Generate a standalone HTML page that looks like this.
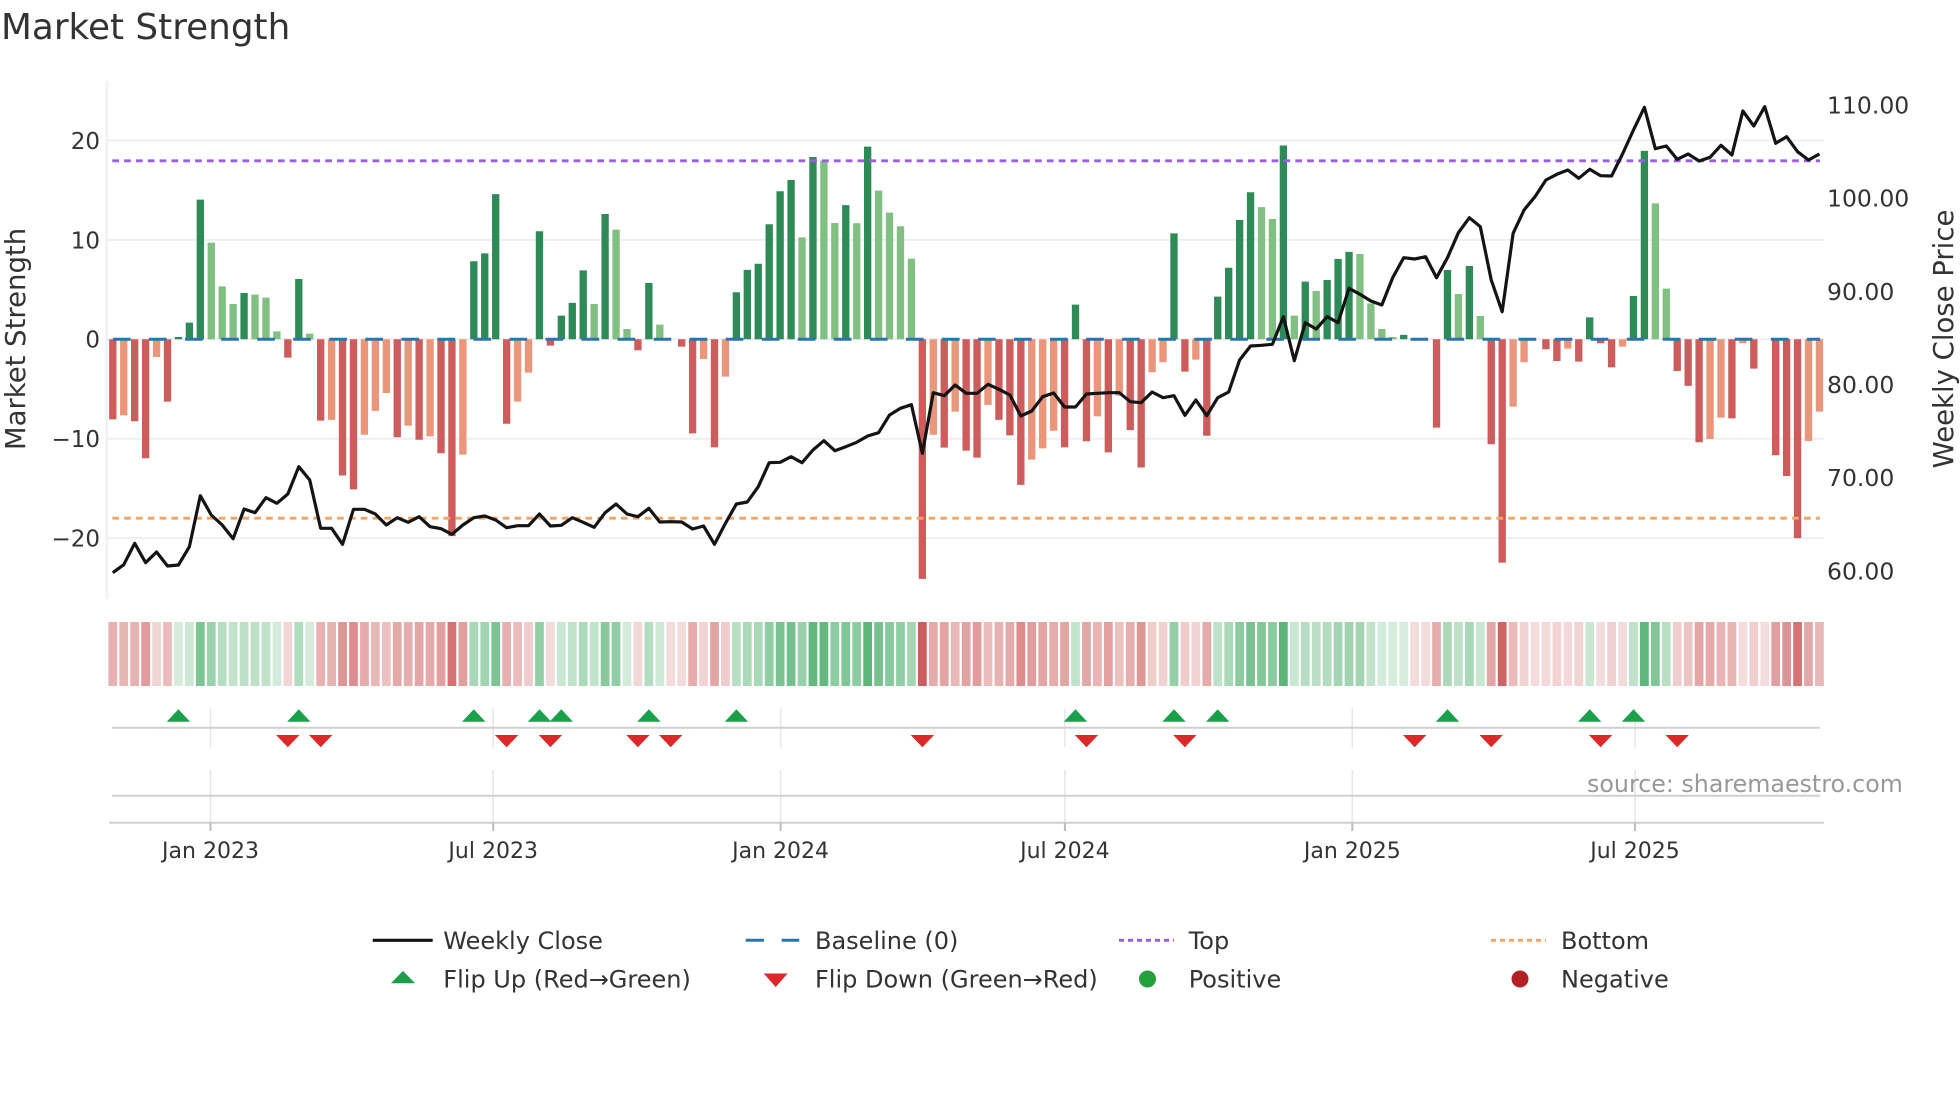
<!DOCTYPE html>
<html><head><meta charset="utf-8"><style>
html,body{margin:0;padding:0;background:#fff}
svg{display:block}
text{font-family:"DejaVu Sans","Liberation Sans",sans-serif;fill:#333}
</style></head><body>
<svg width="1960" height="1102" viewBox="0 0 1960 1102" xmlns="http://www.w3.org/2000/svg">
<rect width="1960" height="1102" fill="#fff"/>
<text x="1" y="39" font-size="35.8">Market Strength</text>

<g stroke="#eceff4" stroke-width="2">
<line x1="107" y1="140.5" x2="1824" y2="140.5"/>
<line x1="107" y1="239.9" x2="1824" y2="239.9"/>
<line x1="107" y1="339.3" x2="1824" y2="339.3"/>
<line x1="107" y1="438.7" x2="1824" y2="438.7"/>
<line x1="107" y1="538.1" x2="1824" y2="538.1"/>
<line x1="106.7" y1="81" x2="106.7" y2="599"/>
</g>

<g transform="translate(112.8,339.3) scale(10.94,-9.94)">
<path fill="#cd5c5c" d="M-.335 0V-8.05h.67V0zM1.665 0V-8.25h.67V0zM2.665 0V-11.97h.67V0zM4.665 0V-6.27h.67V0zM15.665 0V-1.84h.67V0zM18.665 0V-8.18h.67V0zM20.665 0V-13.7h.67V0zM21.665 0V-15.1h.67V0zM25.665 0V-9.86h.67V0zM27.665 0V-10.1h.67V0zM29.665 0V-11.47h.67V0zM30.665 0V-19.8h.67V0zM35.665 0V-8.5h.67V0zM39.665 0V-.64h.67V0zM47.665 0V-1.1h.67V0zM51.665 0V-.74h.67V0zM52.665 0V-9.46h.67V0zM54.665 0V-10.87h.67V0zM73.665 0V-24.1h.67V0zM75.665 0V-10.9h.67V0zM77.665 0V-11.2h.67V0zM78.665 0V-11.9h.67V0zM80.665 0V-8.1h.67V0zM81.665 0V-9.66h.67V0zM82.665 0V-14.65h.67V0zM86.665 0V-10.87h.67V0zM88.665 0V-10.26h.67V0zM90.665 0V-11.37h.67V0zM92.665 0V-9.12h.67V0zM93.665 0V-12.9h.67V0zM97.665 0V-3.25h.67V0zM99.665 0V-9.7h.67V0zM120.665 0V-8.89h.67V0zM125.665 0V-10.56h.67V0zM126.665 0V-22.47h.67V0zM130.665 0V-1h.67V0zM131.665 0V-2.18h.67V0zM133.665 0V-2.25h.67V0zM135.665 0V-.4h.67V0zM136.665 0V-2.82h.67V0zM142.665 0V-3.19h.67V0zM143.665 0V-4.69h.67V0zM144.665 0V-10.36h.67V0zM147.665 0V-7.95h.67V0zM149.665 0V-2.95h.67V0zM151.665 0V-11.67h.67V0zM152.665 0V-13.75h.67V0zM153.665 0V-20h.67V0z"/>
<path fill="#e9967a" d="M.665 0V-7.65h.67V0zM3.665 0V-1.78h.67V0zM19.665 0V-8.1h.67V0zM22.665 0V-9.6h.67V0zM23.665 0V-7.2h.67V0zM24.665 0V-5.4h.67V0zM26.665 0V-8.7h.67V0zM28.665 0V-9.76h.67V0zM31.665 0V-11.6h.67V0zM36.665 0V-6.27h.67V0zM37.665 0V-3.35h.67V0zM53.665 0V-1.98h.67V0zM55.665 0V-3.76h.67V0zM74.665 0V-9.6h.67V0zM76.665 0V-7.28h.67V0zM79.665 0V-6.6h.67V0zM83.665 0V-12.1h.67V0zM84.665 0V-10.97h.67V0zM85.665 0V-9.2h.67V0zM89.665 0V-7.75h.67V0zM91.665 0V-5.67h.67V0zM94.665 0V-3.32h.67V0zM95.665 0V-2.31h.67V0zM98.665 0V-2.05h.67V0zM127.665 0V-6.77h.67V0zM128.665 0V-2.31h.67V0zM132.665 0V-.94h.67V0zM137.665 0V-.74h.67V0zM145.665 0V-10.03h.67V0zM146.665 0V-7.88h.67V0zM148.665 0V-.4h.67V0zM154.665 0V-10.23h.67V0zM155.665 0V-7.28h.67V0z"/>
<path fill="#2e8b57" d="M5.665 0V.23h.67V0zM6.665 0V1.68h.67V0zM7.665 0V14.05h.67V0zM11.665 0V4.66h.67V0zM16.665 0V6.07h.67V0zM32.665 0V7.85h.67V0zM33.665 0V8.65h.67V0zM34.665 0V14.6h.67V0zM38.665 0V10.87h.67V0zM40.665 0V2.38h.67V0zM41.665 0V3.66h.67V0zM42.665 0V6.94h.67V0zM44.665 0V12.6h.67V0zM48.665 0V5.67h.67V0zM56.665 0V4.73h.67V0zM57.665 0V6.98h.67V0zM58.665 0V7.6h.67V0zM59.665 0V11.57h.67V0zM60.665 0V14.9h.67V0zM61.665 0V16.03h.67V0zM63.665 0V18.34h.67V0zM66.665 0V13.5h.67V0zM68.665 0V19.38h.67V0zM87.665 0V3.49h.67V0zM96.665 0V10.66h.67V0zM100.665 0V4.29h.67V0zM101.665 0V7.2h.67V0zM102.665 0V12h.67V0zM103.665 0V14.8h.67V0zM106.665 0V19.5h.67V0zM108.665 0V5.8h.67V0zM110.665 0V5.97h.67V0zM111.665 0V8.08h.67V0zM112.665 0V8.79h.67V0zM117.665 0V.44h.67V0zM121.665 0V6.97h.67V0zM123.665 0V7.38h.67V0zM134.665 0V2.21h.67V0zM138.665 0V4.36h.67V0zM139.665 0V18.95h.67V0z"/>
<path fill="#81c082" d="M8.665 0V9.72h.67V0zM9.665 0V5.33h.67V0zM10.665 0V3.55h.67V0zM12.665 0V4.49h.67V0zM13.665 0V4.19h.67V0zM14.665 0V.8h.67V0zM17.665 0V.57h.67V0zM43.665 0V3.55h.67V0zM45.665 0V11.03h.67V0zM46.665 0V1.04h.67V0zM49.665 0V1.48h.67V0zM62.665 0V10.26h.67V0zM64.665 0V17.97h.67V0zM65.665 0V11.7h.67V0zM67.665 0V11.67h.67V0zM69.665 0V14.96h.67V0zM70.665 0V12.74h.67V0zM71.665 0V11.37h.67V0zM72.665 0V8.1h.67V0zM104.665 0V13.3h.67V0zM105.665 0V12.1h.67V0zM107.665 0V2.38h.67V0zM109.665 0V4.86h.67V0zM113.665 0V8.58h.67V0zM114.665 0V3.62h.67V0zM115.665 0V1.04h.67V0zM116.665 0V.23h.67V0zM122.665 0V4.56h.67V0zM124.665 0V2.35h.67V0zM140.665 0V13.68h.67V0zM141.665 0V5.1h.67V0z"/>
</g>

<line x1="113" y1="339.3" x2="1820" y2="339.3" stroke="#2a75b0" stroke-width="3" stroke-dasharray="17.7 18.34"/>
<line x1="112.3" y1="160.8" x2="1820" y2="160.8" stroke="#9b5de5" stroke-width="2.8" stroke-dasharray="6.7 5.13"/>
<line x1="112.3" y1="518.2" x2="1820" y2="518.2" stroke="#f4a460" stroke-width="2.8" stroke-dasharray="6.7 5.13"/>

<g transform="translate(112.8,0) scale(10.94,1)">
<polyline fill="none" stroke="#141414" stroke-width="3.2" stroke-linejoin="round" vector-effect="non-scaling-stroke" points="0,572.7 1,564.7 2,543.3 3,562.7 4,552 5,566 6,565 7,546.7 8,495.7 9,515 10,525 11,538.7 12,509 13,512.7 14,497.7 15,503.3 16,494 17,466.7 18,480 19,528.3 20,528.3 21,544.3 22,509.3 23,509.3 24,514 25,525 26,517.7 27,522.3 28,516.7 29,526.7 30,528.7 31,534.3 32,525 33,517.7 34,516 35,520 36,527.7 37,525.7 38,525.7 39,514 40,526 41,525.3 42,517.7 43,522.3 44,527.3 45,512.7 46,504 47,514 48,516.7 49,508.3 50,522 51,521.7 52,522 53,529 54,526 55,544.3 56,523.3 57,504 58,502 59,486.7 60,462.7 61,462.3 62,456.7 63,462.7 64,450 65,440.7 66,450.7 67,446.7 68,442.3 69,436 70,432.7 71,415 72,408.3 73,404.7 74,453.3 75,392.7 76,395.7 77,385 78,393.3 79,393.3 80,384.3 81,389.3 82,395 83,416 84,411 85,396.7 86,393 87,407 88,407 89,394 90,393.3 91,392.7 92,392.7 93,401.7 94,402.7 95,392 96,397.7 97,395.7 98,415.3 99,400 100,415.7 101,397.7 102,392 103,360 104,346 105,345.3 106,344.3 107,316.7 108,360.7 109,322.7 110,329 111,316.7 112,322.7 113,288.3 114,294.3 115,301 116,305 117,277.5 118,257.7 119,259 120,256.7 121,277.7 122,257.7 123,232.7 124,217.7 125,226.7 126,280 127,311.7 128,233.3 129,210 130,196.7 131,180 132,174.3 133,170 134,178.3 135,169.3 136,175.7 137,176 138,154 139,130 140,107.3 141,148.7 142,146 143,159.3 144,154 145,161 146,157.3 147,145.3 148,155 149,111 150,126 151,106.7 152,143.3 153,136.7 154,151.7 155,160 156,154"/>
</g>

<g font-size="23" text-anchor="end">
<text x="100" y="148.9">20</text>
<text x="100" y="248.3">10</text>
<text x="100" y="347.7">0</text>
<text x="100" y="447.1">−10</text>
<text x="100" y="546.5">−20</text>
</g>
<g font-size="23.5">
<text x="1827" y="113.6">110.00</text>
<text x="1827" y="206.7">100.00</text>
<text x="1827" y="299.9">90.00</text>
<text x="1827" y="393">80.00</text>
<text x="1827" y="486.2">70.00</text>
<text x="1827" y="579.3">60.00</text>
</g>
<text transform="translate(25,339) rotate(-90)" font-size="27.5" text-anchor="middle">Market Strength</text>
<text transform="translate(1953,339) rotate(-90)" font-size="27.5" text-anchor="middle">Weekly Close Price</text>

<g transform="translate(112.8,622) scale(10.94,1)">
<g fill="#cd5c5c">
<rect x="-.4" width=".8" height="64" fill-opacity=".47"/>
<rect x=".6" width=".8" height="64" fill-opacity=".45"/>
<rect x="1.6" width=".8" height="64" fill-opacity=".47"/>
<rect x="2.6" width=".8" height="64" fill-opacity=".60"/>
<rect x="3.6" width=".8" height="64" fill-opacity=".26"/>
<rect x="4.6" width=".8" height="64" fill-opacity=".41"/>
<rect x="15.6" width=".8" height="64" fill-opacity=".26"/>
<rect x="18.6" width=".8" height="64" fill-opacity=".47"/>
<rect x="19.6" width=".8" height="64" fill-opacity=".47"/>
<rect x="20.6" width=".8" height="64" fill-opacity=".65"/>
<rect x="21.6" width=".8" height="64" fill-opacity=".70"/>
<rect x="22.6" width=".8" height="64" fill-opacity=".52"/>
<rect x="23.6" width=".8" height="64" fill-opacity=".44"/>
<rect x="24.6" width=".8" height="64" fill-opacity=".38"/>
<rect x="25.6" width=".8" height="64" fill-opacity=".53"/>
<rect x="26.6" width=".8" height="64" fill-opacity=".49"/>
<rect x="27.6" width=".8" height="64" fill-opacity=".54"/>
<rect x="28.6" width=".8" height="64" fill-opacity=".52"/>
<rect x="29.6" width=".8" height="64" fill-opacity=".58"/>
<rect x="30.6" width=".8" height="64" fill-opacity=".86"/>
<rect x="31.6" width=".8" height="64" fill-opacity=".59"/>
<rect x="35.6" width=".8" height="64" fill-opacity=".48"/>
<rect x="36.6" width=".8" height="64" fill-opacity=".41"/>
<rect x="37.6" width=".8" height="64" fill-opacity=".31"/>
<rect x="39.6" width=".8" height="64" fill-opacity=".22"/>
<rect x="47.6" width=".8" height="64" fill-opacity=".24"/>
<rect x="50.6" width=".8" height="64" fill-opacity=".21"/>
<rect x="51.6" width=".8" height="64" fill-opacity=".22"/>
<rect x="52.6" width=".8" height="64" fill-opacity=".51"/>
<rect x="53.6" width=".8" height="64" fill-opacity=".27"/>
<rect x="54.6" width=".8" height="64" fill-opacity=".56"/>
<rect x="55.6" width=".8" height="64" fill-opacity=".32"/>
<rect x="73.6" width=".8" height="64" fill-opacity="1"/>
<rect x="74.6" width=".8" height="64" fill-opacity=".52"/>
<rect x="75.6" width=".8" height="64" fill-opacity=".56"/>
<rect x="76.6" width=".8" height="64" fill-opacity=".44"/>
<rect x="77.6" width=".8" height="64" fill-opacity=".57"/>
<rect x="78.6" width=".8" height="64" fill-opacity=".60"/>
<rect x="79.6" width=".8" height="64" fill-opacity=".42"/>
<rect x="80.6" width=".8" height="64" fill-opacity=".47"/>
<rect x="81.6" width=".8" height="64" fill-opacity=".52"/>
<rect x="82.6" width=".8" height="64" fill-opacity=".69"/>
<rect x="83.6" width=".8" height="64" fill-opacity=".60"/>
<rect x="84.6" width=".8" height="64" fill-opacity=".56"/>
<rect x="85.6" width=".8" height="64" fill-opacity=".51"/>
<rect x="86.6" width=".8" height="64" fill-opacity=".56"/>
<rect x="88.6" width=".8" height="64" fill-opacity=".54"/>
<rect x="89.6" width=".8" height="64" fill-opacity=".46"/>
<rect x="90.6" width=".8" height="64" fill-opacity=".58"/>
<rect x="91.6" width=".8" height="64" fill-opacity=".39"/>
<rect x="92.6" width=".8" height="64" fill-opacity=".50"/>
<rect x="93.6" width=".8" height="64" fill-opacity=".63"/>
<rect x="94.6" width=".8" height="64" fill-opacity=".31"/>
<rect x="95.6" width=".8" height="64" fill-opacity=".28"/>
<rect x="97.6" width=".8" height="64" fill-opacity=".31"/>
<rect x="98.6" width=".8" height="64" fill-opacity=".27"/>
<rect x="99.6" width=".8" height="64" fill-opacity=".52"/>
<rect x="118.6" width=".8" height="64" fill-opacity=".21"/>
<rect x="119.6" width=".8" height="64" fill-opacity=".21"/>
<rect x="120.6" width=".8" height="64" fill-opacity=".50"/>
<rect x="125.6" width=".8" height="64" fill-opacity=".55"/>
<rect x="126.6" width=".8" height="64" fill-opacity=".95"/>
<rect x="127.6" width=".8" height="64" fill-opacity=".42"/>
<rect x="128.6" width=".8" height="64" fill-opacity=".28"/>
<rect x="129.6" width=".8" height="64" fill-opacity=".21"/>
<rect x="130.6" width=".8" height="64" fill-opacity=".23"/>
<rect x="131.6" width=".8" height="64" fill-opacity=".27"/>
<rect x="132.6" width=".8" height="64" fill-opacity=".23"/>
<rect x="133.6" width=".8" height="64" fill-opacity=".27"/>
<rect x="135.6" width=".8" height="64" fill-opacity=".21"/>
<rect x="136.6" width=".8" height="64" fill-opacity=".29"/>
<rect x="137.6" width=".8" height="64" fill-opacity=".22"/>
<rect x="142.6" width=".8" height="64" fill-opacity=".31"/>
<rect x="143.6" width=".8" height="64" fill-opacity=".36"/>
<rect x="144.6" width=".8" height="64" fill-opacity=".54"/>
<rect x="145.6" width=".8" height="64" fill-opacity=".53"/>
<rect x="146.6" width=".8" height="64" fill-opacity=".46"/>
<rect x="147.6" width=".8" height="64" fill-opacity=".46"/>
<rect x="148.6" width=".8" height="64" fill-opacity=".21"/>
<rect x="149.6" width=".8" height="64" fill-opacity=".30"/>
<rect x="150.6" width=".8" height="64" fill-opacity=".21"/>
<rect x="151.6" width=".8" height="64" fill-opacity=".59"/>
<rect x="152.6" width=".8" height="64" fill-opacity=".66"/>
<rect x="153.6" width=".8" height="64" fill-opacity=".86"/>
<rect x="154.6" width=".8" height="64" fill-opacity=".54"/>
<rect x="155.6" width=".8" height="64" fill-opacity=".44"/>
</g>
<g fill="#3ea860">
<rect x="5.6" width=".8" height="64" fill-opacity=".21"/>
<rect x="6.6" width=".8" height="64" fill-opacity=".26"/>
<rect x="7.6" width=".8" height="64" fill-opacity=".67"/>
<rect x="8.6" width=".8" height="64" fill-opacity=".52"/>
<rect x="9.6" width=".8" height="64" fill-opacity=".38"/>
<rect x="10.6" width=".8" height="64" fill-opacity=".32"/>
<rect x="11.6" width=".8" height="64" fill-opacity=".35"/>
<rect x="12.6" width=".8" height="64" fill-opacity=".35"/>
<rect x="13.6" width=".8" height="64" fill-opacity=".34"/>
<rect x="14.6" width=".8" height="64" fill-opacity=".23"/>
<rect x="16.6" width=".8" height="64" fill-opacity=".40"/>
<rect x="17.6" width=".8" height="64" fill-opacity=".22"/>
<rect x="32.6" width=".8" height="64" fill-opacity=".46"/>
<rect x="33.6" width=".8" height="64" fill-opacity=".49"/>
<rect x="34.6" width=".8" height="64" fill-opacity=".68"/>
<rect x="38.6" width=".8" height="64" fill-opacity=".56"/>
<rect x="40.6" width=".8" height="64" fill-opacity=".28"/>
<rect x="41.6" width=".8" height="64" fill-opacity=".32"/>
<rect x="42.6" width=".8" height="64" fill-opacity=".43"/>
<rect x="43.6" width=".8" height="64" fill-opacity=".32"/>
<rect x="44.6" width=".8" height="64" fill-opacity=".62"/>
<rect x="45.6" width=".8" height="64" fill-opacity=".57"/>
<rect x="46.6" width=".8" height="64" fill-opacity=".23"/>
<rect x="48.6" width=".8" height="64" fill-opacity=".39"/>
<rect x="49.6" width=".8" height="64" fill-opacity=".25"/>
<rect x="56.6" width=".8" height="64" fill-opacity=".36"/>
<rect x="57.6" width=".8" height="64" fill-opacity=".43"/>
<rect x="58.6" width=".8" height="64" fill-opacity=".45"/>
<rect x="59.6" width=".8" height="64" fill-opacity=".58"/>
<rect x="60.6" width=".8" height="64" fill-opacity=".69"/>
<rect x="61.6" width=".8" height="64" fill-opacity=".73"/>
<rect x="62.6" width=".8" height="64" fill-opacity=".54"/>
<rect x="63.6" width=".8" height="64" fill-opacity=".81"/>
<rect x="64.6" width=".8" height="64" fill-opacity=".80"/>
<rect x="65.6" width=".8" height="64" fill-opacity=".59"/>
<rect x="66.6" width=".8" height="64" fill-opacity=".65"/>
<rect x="67.6" width=".8" height="64" fill-opacity=".59"/>
<rect x="68.6" width=".8" height="64" fill-opacity=".84"/>
<rect x="69.6" width=".8" height="64" fill-opacity=".70"/>
<rect x="70.6" width=".8" height="64" fill-opacity=".62"/>
<rect x="71.6" width=".8" height="64" fill-opacity=".58"/>
<rect x="72.6" width=".8" height="64" fill-opacity=".47"/>
<rect x="87.6" width=".8" height="64" fill-opacity=".32"/>
<rect x="96.6" width=".8" height="64" fill-opacity=".55"/>
<rect x="100.6" width=".8" height="64" fill-opacity=".34"/>
<rect x="101.6" width=".8" height="64" fill-opacity=".44"/>
<rect x="102.6" width=".8" height="64" fill-opacity=".60"/>
<rect x="103.6" width=".8" height="64" fill-opacity=".69"/>
<rect x="104.6" width=".8" height="64" fill-opacity=".64"/>
<rect x="105.6" width=".8" height="64" fill-opacity=".60"/>
<rect x="106.6" width=".8" height="64" fill-opacity=".85"/>
<rect x="107.6" width=".8" height="64" fill-opacity=".28"/>
<rect x="108.6" width=".8" height="64" fill-opacity=".39"/>
<rect x="109.6" width=".8" height="64" fill-opacity=".36"/>
<rect x="110.6" width=".8" height="64" fill-opacity=".40"/>
<rect x="111.6" width=".8" height="64" fill-opacity=".47"/>
<rect x="112.6" width=".8" height="64" fill-opacity=".49"/>
<rect x="113.6" width=".8" height="64" fill-opacity=".48"/>
<rect x="114.6" width=".8" height="64" fill-opacity=".32"/>
<rect x="115.6" width=".8" height="64" fill-opacity=".23"/>
<rect x="116.6" width=".8" height="64" fill-opacity=".21"/>
<rect x="117.6" width=".8" height="64" fill-opacity=".21"/>
<rect x="121.6" width=".8" height="64" fill-opacity=".43"/>
<rect x="122.6" width=".8" height="64" fill-opacity=".35"/>
<rect x="123.6" width=".8" height="64" fill-opacity=".45"/>
<rect x="124.6" width=".8" height="64" fill-opacity=".28"/>
<rect x="134.6" width=".8" height="64" fill-opacity=".27"/>
<rect x="138.6" width=".8" height="64" fill-opacity=".34"/>
<rect x="139.6" width=".8" height="64" fill-opacity=".83"/>
<rect x="140.6" width=".8" height="64" fill-opacity=".65"/>
<rect x="141.6" width=".8" height="64" fill-opacity=".37"/>
</g>
</g>

<g stroke="#e6e6e6" stroke-width="1.5">
<line x1="210.5" y1="708.7" x2="210.5" y2="747.3"/><line x1="493.2" y1="708.7" x2="493.2" y2="747.3"/>
<line x1="780.6" y1="708.7" x2="780.6" y2="747.3"/><line x1="1064.9" y1="708.7" x2="1064.9" y2="747.3"/>
<line x1="1352.3" y1="708.7" x2="1352.3" y2="747.3"/><line x1="1635" y1="708.7" x2="1635" y2="747.3"/>
<line x1="210.5" y1="770" x2="210.5" y2="822.7"/><line x1="493.2" y1="770" x2="493.2" y2="822.7"/>
<line x1="780.6" y1="770" x2="780.6" y2="822.7"/><line x1="1064.9" y1="770" x2="1064.9" y2="822.7"/>
<line x1="1352.3" y1="770" x2="1352.3" y2="822.7"/><line x1="1635" y1="770" x2="1635" y2="822.7"/>
</g>
<g stroke="#d0d0d0" stroke-width="2">
<line x1="112" y1="727.7" x2="1820" y2="727.7"/>
<line x1="112" y1="795.7" x2="1820" y2="795.7"/>
<line x1="109" y1="822.7" x2="1824" y2="822.7"/>
</g>
<g stroke="#bdbdbd" stroke-width="2">
<line x1="210.5" y1="822.7" x2="210.5" y2="831"/><line x1="493.2" y1="822.7" x2="493.2" y2="831"/>
<line x1="780.6" y1="822.7" x2="780.6" y2="831"/><line x1="1064.9" y1="822.7" x2="1064.9" y2="831"/>
<line x1="1352.3" y1="822.7" x2="1352.3" y2="831"/><line x1="1635" y1="822.7" x2="1635" y2="831"/>
</g>

<path fill="#1a9f4b" d="M166.7 721.7h23.4l-11.7-12.4zM287.1 721.7h23.4l-11.7-12.4zM462.1 721.7h23.4l-11.7-12.4zM527.8 721.7h23.4l-11.7-12.4zM549.6 721.7h23.4l-11.7-12.4zM637.2 721.7h23.4l-11.7-12.4zM724.7 721.7h23.4l-11.7-12.4zM1063.8 721.7h23.4l-11.7-12.4zM1162.3 721.7h23.4l-11.7-12.4zM1206 721.7h23.4l-11.7-12.4zM1435.8 721.7h23.4l-11.7-12.4zM1578 721.7h23.4l-11.7-12.4zM1621.8 721.7h23.4l-11.7-12.4z"/>
<path fill="#dc2828" d="M276.1 735h23.4l-11.7 12.3zM309 735h23.4l-11.7 12.3zM494.9 735h23.4l-11.7 12.3zM538.7 735h23.4l-11.7 12.3zM626.2 735h23.4l-11.7 12.3zM659 735h23.4l-11.7 12.3zM910.7 735h23.4l-11.7 12.3zM1074.8 735h23.4l-11.7 12.3zM1173.2 735h23.4l-11.7 12.3zM1403 735h23.4l-11.7 12.3zM1479.5 735h23.4l-11.7 12.3zM1588.9 735h23.4l-11.7 12.3zM1665.5 735h23.4l-11.7 12.3z"/>

<text x="1587" y="792" font-size="23.75" style="fill:#999">source: sharemaestro.com</text>

<g font-size="22" text-anchor="middle">
<text x="210.5" y="858">Jan 2023</text>
<text x="493.2" y="858">Jul 2023</text>
<text x="780.6" y="858">Jan 2024</text>
<text x="1064.9" y="858">Jul 2024</text>
<text x="1352.3" y="858">Jan 2025</text>
<text x="1635" y="858">Jul 2025</text>
</g>

<line x1="372.7" y1="940.3" x2="432.7" y2="940.3" stroke="#141414" stroke-width="3.2"/>
<line x1="745.7" y1="940.3" x2="799.3" y2="940.3" stroke="#2a75b0" stroke-width="3" stroke-dasharray="18.3 17.7"/>
<line x1="1119" y1="940.3" x2="1174" y2="940.3" stroke="#9b5de5" stroke-width="2.8" stroke-dasharray="5 4"/>
<line x1="1491" y1="940.3" x2="1546" y2="940.3" stroke="#f4a460" stroke-width="2.8" stroke-dasharray="5 4"/>
<path fill="#1a9f4b" d="M391 983.3h24l-12-12.4z"/>
<path fill="#dc2828" d="M763.7 973.5h24l-12 13.5z"/>
<circle cx="1147.5" cy="979" r="8.5" fill="#22a03c"/>
<circle cx="1520" cy="979" r="8.5" fill="#b22222"/>
<g font-size="24">
<text x="443.3" y="949">Weekly Close</text>
<text x="815" y="949">Baseline (0)</text>
<text x="1188.7" y="949">Top</text>
<text x="1561" y="949">Bottom</text>
<text x="443.3" y="987.3">Flip Up (Red→Green)</text>
<text x="815" y="987.3">Flip Down (Green→Red)</text>
<text x="1188.7" y="987.3">Positive</text>
<text x="1561" y="987.3">Negative</text>
</g>
</svg>
</body></html>
